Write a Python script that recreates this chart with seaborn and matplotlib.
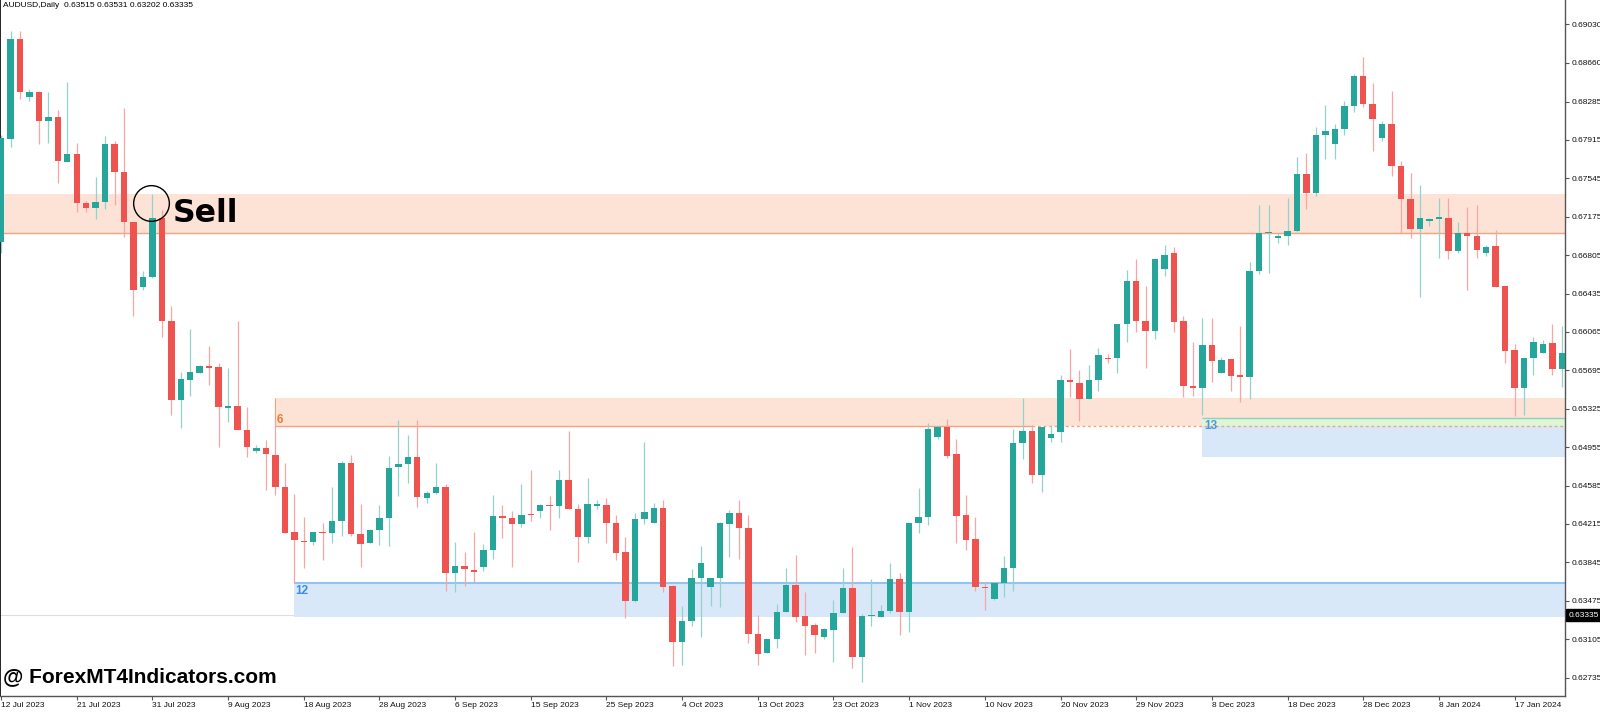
import numpy as np
import pandas as pd
import matplotlib
matplotlib.use("Agg")
import matplotlib.pyplot as plt
import matplotlib.transforms as mtransforms
import seaborn as sns

# AUDUSD daily candles (one bar per trading day, Sunday bars included)
open_ = [
    0.6693, 0.6792, 0.6889, 0.6833, 0.6838, 0.6810, 0.6814, 0.6770, 0.6778, 0.6731,
    0.6726, 0.6732, 0.6788, 0.6761, 0.6712, 0.6650, 0.6659, 0.6716, 0.6617, 0.6541,
    0.6560, 0.6567, 0.6574, 0.6573, 0.6533, 0.6535, 0.6512, 0.6492, 0.6495, 0.6488,
    0.6457, 0.6414, 0.6405, 0.6404, 0.6414, 0.6413, 0.6424, 0.6480, 0.6412, 0.6403,
    0.6416, 0.6427, 0.6476, 0.6479, 0.6486, 0.6446, 0.6451, 0.6457, 0.6374, 0.6381,
    0.6377, 0.6380, 0.6396, 0.6429, 0.6427, 0.6421, 0.6431, 0.6434, 0.6440, 0.6439,
    0.6464, 0.6436, 0.6409, 0.6439, 0.6440, 0.6422, 0.6394, 0.6347, 0.6426, 0.6422,
    0.6437, 0.6362, 0.6308, 0.6328, 0.6369, 0.6361, 0.6369, 0.6421, 0.6432, 0.6418,
    0.6315, 0.6297, 0.6311, 0.6337, 0.6363, 0.6333, 0.6324, 0.6313, 0.6319, 0.6336,
    0.6360, 0.6293, 0.6333, 0.6332, 0.6338, 0.6368, 0.6337, 0.6422, 0.6428, 0.6505,
    0.6515, 0.6489, 0.6430, 0.6407, 0.6361, 0.6349, 0.6365, 0.6379, 0.6499, 0.6511,
    0.6469, 0.6504, 0.6510, 0.6560, 0.6557, 0.6542, 0.6560, 0.6581, 0.6581, 0.6614,
    0.6656, 0.6617, 0.6607, 0.6667, 0.6683, 0.6617, 0.6554, 0.6552, 0.6594, 0.6567,
    0.6580, 0.6565, 0.6563, 0.6665, 0.6702, 0.6697, 0.6699, 0.6704, 0.6759, 0.6740,
    0.6796, 0.6788, 0.6802, 0.6824, 0.6853, 0.6826, 0.6793, 0.6807, 0.6766, 0.6735,
    0.6706, 0.6713, 0.6715, 0.6716, 0.6684, 0.6702, 0.6699, 0.6683, 0.6689, 0.6651,
    0.6589, 0.6552, 0.6581, 0.6586, 0.6596, 0.6571,
]
high = [
    0.6796, 0.6896, 0.6896, 0.6841, 0.6839, 0.6838, 0.6820, 0.6847, 0.6789, 0.6733,
    0.6756, 0.6795, 0.6790, 0.6822, 0.6712, 0.6665, 0.6739, 0.6724, 0.6631, 0.6568,
    0.6609, 0.6575, 0.6593, 0.6577, 0.6572, 0.6617, 0.6534, 0.6498, 0.6502, 0.6522,
    0.6480, 0.6450, 0.6428, 0.6414, 0.6422, 0.6457, 0.6482, 0.6488, 0.6441, 0.6417,
    0.6440, 0.6487, 0.6522, 0.6507, 0.6522, 0.6453, 0.6480, 0.6460, 0.6404, 0.6394,
    0.6414, 0.6402, 0.6449, 0.6440, 0.6434, 0.6460, 0.6473, 0.6441, 0.6448, 0.6473,
    0.6511, 0.6441, 0.6466, 0.6445, 0.6446, 0.6430, 0.6409, 0.6432, 0.6500, 0.6442,
    0.6445, 0.6363, 0.6342, 0.6378, 0.6400, 0.6369, 0.6423, 0.6435, 0.6445, 0.6430,
    0.6334, 0.6311, 0.6344, 0.6379, 0.6392, 0.6356, 0.6326, 0.6321, 0.6348, 0.6379,
    0.6399, 0.6335, 0.6368, 0.6343, 0.6384, 0.6374, 0.6422, 0.6456, 0.6519, 0.6516,
    0.6523, 0.6503, 0.6449, 0.6428, 0.6366, 0.6366, 0.6391, 0.6513, 0.6543, 0.6517,
    0.6515, 0.6517, 0.6565, 0.6590, 0.6570, 0.6575, 0.6591, 0.6585, 0.6614, 0.6666,
    0.6677, 0.6651, 0.6677, 0.6690, 0.6688, 0.6622, 0.6597, 0.6620, 0.6620, 0.6582,
    0.6580, 0.6612, 0.6674, 0.6729, 0.6729, 0.6702, 0.6736, 0.6775, 0.6779, 0.6804,
    0.6825, 0.6807, 0.6829, 0.6855, 0.6871, 0.6846, 0.6810, 0.6839, 0.6771, 0.6760,
    0.6748, 0.6716, 0.6736, 0.6736, 0.6712, 0.6727, 0.6729, 0.6690, 0.6705, 0.6651,
    0.6595, 0.6581, 0.6602, 0.6599, 0.6614, 0.6612,
]
low = [
    0.6683, 0.6785, 0.6831, 0.6829, 0.6788, 0.6789, 0.6750, 0.6770, 0.6722, 0.6722,
    0.6715, 0.6725, 0.6729, 0.6698, 0.6622, 0.6647, 0.6658, 0.6602, 0.6526, 0.6514,
    0.6545, 0.6567, 0.6555, 0.6496, 0.6520, 0.6512, 0.6486, 0.6490, 0.6454, 0.6449,
    0.6413, 0.6365, 0.6379, 0.6401, 0.6387, 0.6403, 0.6410, 0.6410, 0.6380, 0.6403,
    0.6401, 0.6400, 0.6448, 0.6461, 0.6438, 0.6442, 0.6450, 0.6357, 0.6356, 0.6362,
    0.6366, 0.6376, 0.6388, 0.6408, 0.6380, 0.6419, 0.6424, 0.6427, 0.6416, 0.6427,
    0.6436, 0.6385, 0.6403, 0.6436, 0.6403, 0.6387, 0.6331, 0.6346, 0.6421, 0.6422,
    0.6356, 0.6285, 0.6286, 0.6323, 0.6313, 0.6342, 0.6341, 0.6390, 0.6388, 0.6307,
    0.6286, 0.6297, 0.6302, 0.6337, 0.6327, 0.6295, 0.6297, 0.6311, 0.6288, 0.6336,
    0.6283, 0.6269, 0.6323, 0.6332, 0.6336, 0.6314, 0.6317, 0.6413, 0.6420, 0.6503,
    0.6485, 0.6403, 0.6396, 0.6357, 0.6339, 0.6348, 0.6351, 0.6357, 0.6484, 0.6461,
    0.6452, 0.6500, 0.6500, 0.6544, 0.6521, 0.6542, 0.6550, 0.6577, 0.6567, 0.6597,
    0.6606, 0.6572, 0.6600, 0.6660, 0.6606, 0.6544, 0.6545, 0.6526, 0.6558, 0.6567,
    0.6550, 0.6539, 0.6542, 0.6662, 0.6663, 0.6692, 0.6690, 0.6703, 0.6725, 0.6737,
    0.6773, 0.6773, 0.6796, 0.6818, 0.6823, 0.6781, 0.6790, 0.6757, 0.6702, 0.6697,
    0.6640, 0.6709, 0.6678, 0.6677, 0.6683, 0.6647, 0.6678, 0.6680, 0.6650, 0.6577,
    0.6525, 0.6526, 0.6565, 0.6586, 0.6565, 0.6553,
]
close = [
    0.6793, 0.6889, 0.6838, 0.6838, 0.6810, 0.6814, 0.6771, 0.6778, 0.6731, 0.6726,
    0.6732, 0.6788, 0.6761, 0.6712, 0.6647, 0.6659, 0.6716, 0.6617, 0.6541, 0.6561,
    0.6568, 0.6574, 0.6572, 0.6534, 0.6535, 0.6512, 0.6496, 0.6495, 0.6489, 0.6457,
    0.6413, 0.6406, 0.6404, 0.6414, 0.6413, 0.6424, 0.6480, 0.6412, 0.6402, 0.6416,
    0.6427, 0.6475, 0.6479, 0.6486, 0.6447, 0.6451, 0.6457, 0.6374, 0.6381, 0.6378,
    0.6375, 0.6396, 0.6429, 0.6427, 0.6421, 0.6430, 0.6430, 0.6440, 0.6439, 0.6464,
    0.6436, 0.6409, 0.6441, 0.6441, 0.6422, 0.6393, 0.6347, 0.6426, 0.6433, 0.6437,
    0.6361, 0.6308, 0.6328, 0.6369, 0.6384, 0.6369, 0.6422, 0.6432, 0.6418, 0.6315,
    0.6296, 0.6311, 0.6337, 0.6363, 0.6332, 0.6323, 0.6314, 0.6320, 0.6336, 0.6360,
    0.6293, 0.6333, 0.6334, 0.6338, 0.6368, 0.6337, 0.6422, 0.6428, 0.6513, 0.6515,
    0.6487, 0.6429, 0.6406, 0.6361, 0.6360, 0.6365, 0.6379, 0.6499, 0.6511, 0.6469,
    0.6515, 0.6508, 0.6560, 0.6558, 0.6542, 0.6560, 0.6584, 0.6580, 0.6614, 0.6656,
    0.6617, 0.6607, 0.6677, 0.6681, 0.6616, 0.6554, 0.6552, 0.6594, 0.6578, 0.6579,
    0.6564, 0.6563, 0.6665, 0.6702, 0.6703, 0.6699, 0.6704, 0.6759, 0.6740, 0.6796,
    0.6800, 0.6802, 0.6824, 0.6853, 0.6826, 0.6812, 0.6807, 0.6766, 0.6735, 0.6706,
    0.6716, 0.6715, 0.6717, 0.6684, 0.6702, 0.6699, 0.6685, 0.6688, 0.6650, 0.6588,
    0.6552, 0.6581, 0.6597, 0.6595, 0.6571, 0.6586,
]

# one date label every 8 bars, starting at bar 0
date_labels = [
    "12 Jul 2023", "21 Jul 2023", "31 Jul 2023", "9 Aug 2023", "18 Aug 2023",
    "28 Aug 2023", "6 Sep 2023", "15 Sep 2023", "25 Sep 2023", "4 Oct 2023",
    "13 Oct 2023", "23 Oct 2023", "1 Nov 2023", "10 Nov 2023", "20 Nov 2023",
    "29 Nov 2023", "8 Dec 2023", "18 Dec 2023", "28 Dec 2023", "8 Jan 2024",
    "17 Jan 2024",
]
price_ticks = [
    0.69030, 0.68660, 0.68285, 0.67915, 0.67545, 0.67175, 0.66805, 0.66435, 0.66065,
    0.65695, 0.65325, 0.64955, 0.64585, 0.64215, 0.63845, 0.63475, 0.63105, 0.62735,
]
last_price = 0.63335
header = "AUDUSD,Daily  0.63515 0.63531 0.63202 0.63335"

# supply / demand zones: (low, high) price and first bar
zone_top = (0.67015, 0.67394)
zone_6 = (0.65158, 0.65425)
zone_6_start, zone_6_break = 29, 109
zone_12 = (0.63318, 0.63649)
zone_12_start = 31
zone_13_green = (0.65158, 0.65240)
zone_13_blue = (0.64857, 0.65158)
zone_13_start = 127

TEAL, RED = "#26a69a", "#ef5350"
TEAL_WICK, RED_WICK = "#93d3cc", "#f6a7a5"
PEACH, PEACH_LINE = "#fce3d6", "#f5a27f"
BLUE, BLUE_LINE = "#d9e8f8", "#94c3ee"
GREEN, GREEN_LINE = "#def5d6", "#8fd0c0"

df = pd.DataFrame({"bar": np.arange(len(open_)), "open": open_, "high": high,
                   "low": low, "close": close})
df["bull"] = df["close"] >= df["open"]
df["body_low"] = df[["open", "close"]].min(axis=1)
df["body"] = (df["close"] - df["open"]).abs().clip(lower=0.00006)
body_colors = list(np.where(df["bull"], TEAL, RED))
wick_colors = list(np.where(df["bull"], TEAL_WICK, RED_WICK))
n = len(df)

sns.set_style("white")
plt.rcParams["font.family"] = ["Liberation Sans", "DejaVu Sans"]
plt.rcParams["text.color"] = "black"

fig = plt.figure(figsize=(16, 7.12), dpi=100)
ax = fig.add_axes([0, 16 / 712, 1565 / 1600, 696 / 712])
far = n + 10

# zones
ax.fill_between([-5, far], *zone_top, color=PEACH, lw=0, zorder=0.5)
ax.hlines(zone_top[0], -5, far, color=PEACH_LINE, lw=1.0, zorder=1)
ax.axhline(last_price, color="#dedede", lw=0.8, zorder=0.3)
ax.fill_between([zone_6_start, far], *zone_6, color=PEACH, lw=0, zorder=0.5)
ax.hlines(zone_6[0], zone_6_start, zone_6_break, color=PEACH_LINE, lw=1.0, zorder=1)
ax.hlines(zone_6[0], zone_6_break, far, color=PEACH_LINE, lw=1.0,
          linestyles=(0, (2, 2)), zorder=1.2)
ax.vlines(zone_6_start, zone_6[0], zone_6[1], color=PEACH_LINE, lw=0.8, zorder=1)
ax.fill_between([zone_12_start, far], *zone_12, color=BLUE, lw=0, zorder=0.5)
ax.hlines(zone_12[1], zone_12_start, far, color=BLUE_LINE, lw=1.5, zorder=1)
ax.fill_between([zone_13_start, far], *zone_13_green, color=GREEN, lw=0, zorder=0.6)
ax.fill_between([zone_13_start, far], *zone_13_blue, color=BLUE, lw=0, zorder=0.6)
ax.hlines(zone_13_green[1], zone_13_start, far, color=GREEN_LINE, lw=1.0, zorder=1)

ax.text(zone_6_start + 0.15, 0.6522, "6", color="#f07a30", fontsize=8.5,
        fontweight="bold", va="center", ha="left", zorder=4)
ax.text(zone_12_start + 0.15, 0.6357, "12", color="#3a8de2", fontsize=8.5,
        fontweight="bold", va="center", ha="left", zorder=4)
ax.text(zone_13_start + 0.15, 0.6516, "13", color="#4a98e4", fontsize=8.5,
        fontweight="bold", va="center", ha="left", zorder=4)

# candles: wicks, then bodies as floating bars
ax.vlines(df["bar"], df["low"], df["high"], colors=wick_colors, lw=0.9, zorder=2)
sns.barplot(data=df, x="bar", y="body", native_scale=True, errorbar=None,
            width=0.68, color=TEAL, saturation=1,
            bottom=df["body_low"].to_numpy(),
            facecolor=body_colors, edgecolor=body_colors, linewidth=0,
            zorder=3, ax=ax)

# sell signal
ax.plot([15.8], [0.6731], marker="o", ms=25.7, mfc="none", mec="black",
        mew=1.0, zorder=5)
ax.text(18.2, 0.6712, "Sell", fontsize=22.7, fontweight="bold", color="black",
        family="DejaVu Sans", va="baseline", ha="left", zorder=5)

ax.set_xlim(-0.11, 165.33)
ax.set_ylim(0.62557, 0.69263)
ax.set_xlabel("")
ax.set_ylabel("")

ax.set_xticks(np.arange(0, 8 * len(date_labels), 8))
ax.set_xticklabels(date_labels, ha="left")
ax.yaxis.tick_right()
ax.set_yticks(price_ticks)
ax.set_yticklabels([f"{v:.5f}" for v in price_ticks])
ax.tick_params(axis="both", which="major", length=3, width=0.8, color="#555555",
               labelsize=6, labelcolor="#111111", pad=1.5)
ax.tick_params(axis="x", bottom=True)
ax.tick_params(axis="y", right=True, left=False)

ax.spines["top"].set_visible(False)
ax.spines["left"].set_color("black")
ax.spines["left"].set_linewidth(1.2)
for side in ["right", "bottom"]:
    ax.spines[side].set_color("#555555")
    ax.spines[side].set_linewidth(1.0)

# last price tag on the price scale
tag = mtransforms.blended_transform_factory(ax.transAxes, ax.transData)
ax.text(1.002, last_price, f"{last_price:.5f}", transform=tag, ha="left",
        va="center", fontsize=6, color="white", clip_on=False,
        bbox=dict(boxstyle="square,pad=0.3", fc="black", ec="black"))

fig.text(3 / 1600, 1 - 2 / 712, header, ha="left", va="top", fontsize=6,
         color="black")
fig.text(3 / 1600, 30 / 712, "@ ForexMT4Indicators.com", ha="left",
         va="baseline", fontsize=15, fontweight="bold", color="black")

fig.savefig("out.png", dpi=100)
